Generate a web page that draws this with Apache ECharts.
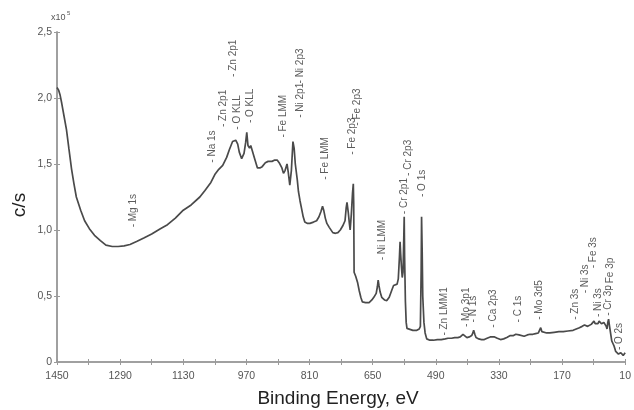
<!DOCTYPE html>
<html>
<head>
<meta charset="utf-8">
<script src="https://cdn.jsdelivr.net/npm/echarts@6/dist/echarts.min.js"></script>
<style>html,body{margin:0;padding:0;background:#fff;}#c{width:634px;height:410px;}</style>
</head>
<body>
<div id="c"></div>
<script>
// Binding energy (eV) and counts (x10^5 c/s)
const energy = [1450,1446,1442,1438,1432,1426,1420,1413,1407,1401,1390,1380,1368,1355,1340,1326,1310,1295,1280,1265,1247,1230,1210,1188,1170,1150,1130,1110,1088,1075,1060,1050,1040,1030,1020,1013,1005,997,992,988,982,976,972,969,966,962,959,955,950,942,936,930,922,915,905,898,892,887,880,876,872,867,864,860,856,852,849,846,841,838,834,830,826,822,815,809,800,792,786,781,777,774,770,766,760,751,744,738,732,726,720,717,715,712,709,707,704,701,699,698,697,693,688,684,680,676,668,659,652,647,641,638,636,634,631,627,620,614,608,602,597,592,588,585,582,580.5,579,577,575,573,571,570,569,567,565,563,558,548,538,532,529,527,526,524.5,523,520,517,513,505,496,486,476,466,459,450,442,434,428,424,421,417,411,405,399,396,394,391,388,381,374,367,360,352,347,341,334,326,318,310,301,293,287,283,279,274,266,258,251,244,237,230,227,224,221,217,209,201,190,178,167,155,142,134,126,119,113,109,105,101,96,92,89,86,83,79,76,73,70,67,64,61,58,56,54,52,50,48,46,44,41,38,36,34,31,27,24,21,18,15,12,10];
const counts = [2.08,2.06,2.02,1.96,1.86,1.76,1.62,1.46,1.35,1.25,1.15,1.07,1.01,0.96,0.92,0.885,0.875,0.875,0.88,0.89,0.915,0.94,0.97,1.01,1.04,1.09,1.15,1.19,1.25,1.30,1.36,1.42,1.46,1.49,1.55,1.61,1.67,1.68,1.65,1.59,1.54,1.58,1.66,1.74,1.64,1.62,1.64,1.60,1.55,1.47,1.47,1.48,1.51,1.52,1.52,1.53,1.53,1.51,1.47,1.43,1.45,1.50,1.44,1.34,1.45,1.67,1.62,1.50,1.38,1.29,1.22,1.16,1.10,1.06,1.05,1.05,1.06,1.07,1.10,1.14,1.18,1.15,1.09,1.05,1.02,0.98,0.975,0.98,1.00,1.03,1.07,1.17,1.21,1.14,1.05,1.00,1.12,1.28,1.35,1.20,0.68,0.65,0.60,0.54,0.49,0.455,0.45,0.45,0.47,0.49,0.52,0.57,0.62,0.58,0.53,0.49,0.47,0.465,0.49,0.54,0.58,0.59,0.59,0.63,0.80,0.91,0.82,0.72,0.64,0.68,0.95,1.10,0.80,0.46,0.30,0.255,0.24,0.24,0.24,0.25,0.27,0.70,1.10,0.85,0.50,0.30,0.22,0.175,0.165,0.165,0.17,0.17,0.175,0.18,0.18,0.185,0.185,0.19,0.205,0.21,0.195,0.185,0.19,0.20,0.22,0.24,0.21,0.185,0.175,0.17,0.17,0.18,0.19,0.20,0.19,0.18,0.17,0.175,0.185,0.20,0.20,0.21,0.22,0.205,0.19,0.195,0.205,0.21,0.21,0.215,0.22,0.235,0.26,0.23,0.215,0.22,0.22,0.225,0.23,0.23,0.235,0.24,0.25,0.26,0.27,0.28,0.28,0.27,0.27,0.285,0.30,0.31,0.29,0.28,0.29,0.31,0.30,0.29,0.29,0.30,0.31,0.27,0.25,0.30,0.325,0.28,0.24,0.20,0.16,0.14,0.12,0.10,0.08,0.07,0.06,0.07,0.07,0.055,0.05,0.06,0.07];

// Peak annotations: name, energy, and the level where the label starts
const peakNames = ['Mg 1s','Na 1s','Zn 2p1','O KLL','Zn 2p1','O KLL','Fe LMM','Ni 2p1','Ni 2p3','Fe LMM','Fe 2p3','Fe 2p3','Ni LMM','Cr 2p1','Cr 2p3','O 1s','Zn LMM1','Mo 3p1','N 1s','Ca 2p3','C 1s','Mo 3d5','Zn 3s','Ni 3s','Fe 3s','Ni 3s','Cr 3p','Fe 3p','O 2s'];
const peakEnergy = [1258,1056,1028,993,1003,961,876,834,834,769,701,689,626,569,559,524,469,414,394,344,282,227,137,110,90,77,52,47,25];
const peakLevel = [1.02,1.51,1.78,1.76,2.16,1.81,1.70,1.85,2.11,1.38,1.57,1.79,0.77,1.12,1.41,1.25,0.20,0.265,0.30,0.26,0.30,0.32,0.32,0.52,0.71,0.34,0.35,0.55,0.09];

const yTicks = [0,0.5,1,1.5,2,2.5];

const FONT = '"Liberation Sans", Arial, sans-serif';
const chart = echarts.init(document.getElementById('c'), null, {renderer:'canvas'});

const lineData = energy.map((e,i)=>[e,counts[i]]);
const labelData = peakNames.map((n,i)=>({name:n, value:[peakEnergy[i], peakLevel[i]]}));

const xBase = {
  type:'value', min:10, max:1450, interval:80, inverse:true, position:'bottom',
  splitLine:{show:false},
  axisLine:{show:true, onZero:false, lineStyle:{color:'#9a9a9a', width:1.5}},
};
const yBase = {
  type:'value', min:0, max:2.5, interval:0.5, position:'left',
  splitLine:{show:false},
  axisLine:{show:true, onZero:false, lineStyle:{color:'#9a9a9a', width:1.5}},
};

chart.setOption({
  animation:false,
  backgroundColor:'#fff',
  grid:{left:57, right:0, top:32, bottom:48, containLabel:false},
  xAxis:[
    Object.assign({}, xBase, {
      axisTick:{show:true, length:3, lineStyle:{color:'#9a9a9a', width:1}},
      axisLabel:{show:true, margin:9, color:'#555', fontSize:10.5, fontFamily:FONT,
        formatter:v=>(Math.round((v-10)/80)%2===0 ? String(v) : '')}
    }),
    Object.assign({}, xBase, {
      axisTick:{show:true, inside:true, length:3, lineStyle:{color:'#9a9a9a', width:1}},
      axisLabel:{show:false}
    })
  ],
  yAxis:[
    Object.assign({}, yBase, {
      axisTick:{show:true, length:3, lineStyle:{color:'#9a9a9a', width:1}},
      axisLabel:{show:true, margin:5, color:'#555', fontSize:10.5, fontFamily:FONT,
        formatter:v=>(v===0 ? '0' : v.toFixed(1).replace('.',','))}
    }),
    Object.assign({}, yBase, {
      axisTick:{show:true, inside:true, length:3, lineStyle:{color:'#9a9a9a', width:1}},
      axisLabel:{show:false}
    })
  ],
  graphic:[
    {type:'text', left:51, top:13, style:{text:'x10', font:'9px '+FONT, fill:'#555'}},
    {type:'text', left:67, top:10, style:{text:'5', font:'6px '+FONT, fill:'#555'}},
    {type:'text', x:20, y:205, rotation:Math.PI/2, style:{text:'c/s', font:'19px '+FONT, fill:'#222', align:'center', verticalAlign:'middle'}},
    {type:'text', x:338, y:399, style:{text:'Binding Energy, eV', font:'19px '+FONT, fill:'#222', align:'center', verticalAlign:'middle'}}
  ],
  series:[
    {
      type:'line', xAxisIndex:0, yAxisIndex:0, data:lineData, showSymbol:false, symbol:'none',
      silent:true, lineStyle:{color:'#4a4a4a', width:1.7}, z:3
    },
    {
      type:'scatter', xAxisIndex:0, yAxisIndex:0, data:labelData, symbolSize:0.1,
      itemStyle:{color:'rgba(0,0,0,0)'}, silent:true, z:4,
      label:{show:true, position:'inside', rotate:90, align:'left', verticalAlign:'middle',
        formatter:p=>'- '+p.name, color:'#333', fontSize:10, fontFamily:FONT}
    }
  ]
});
</script>
</body>
</html>
